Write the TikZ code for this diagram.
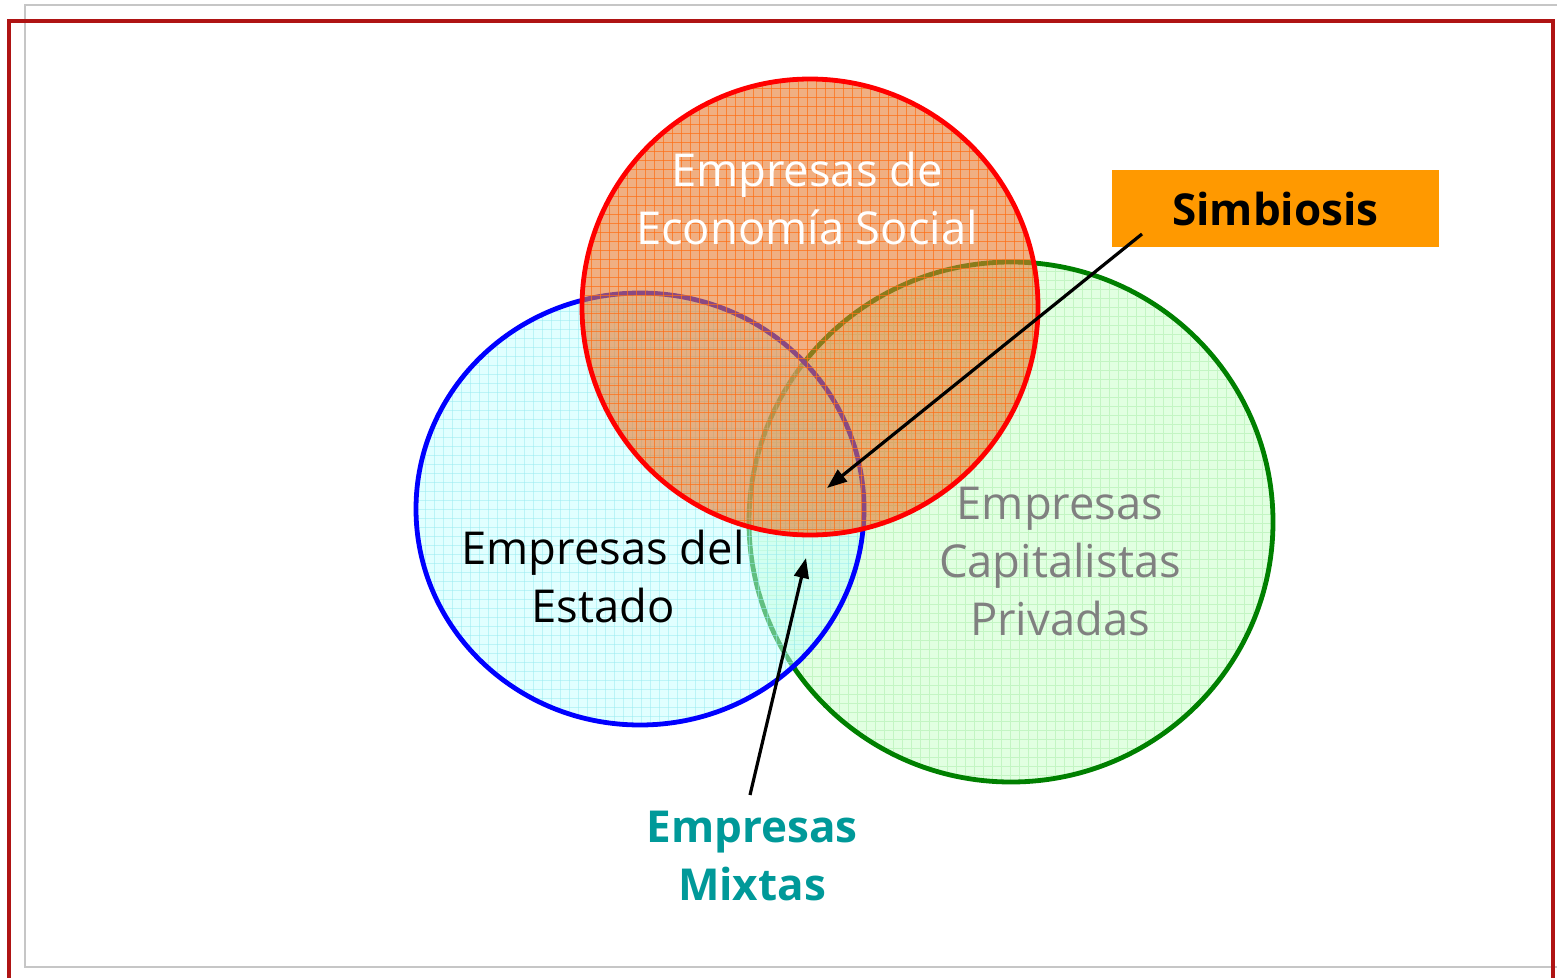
\documentclass[tikz,border=0pt]{standalone}
\usepackage{fontspec}
\setmainfont{Open Sans}
\usetikzlibrary{arrows.meta}
\definecolor{marco}{RGB}{175,20,20}
\definecolor{naranja}{RGB}{255,153,0}
\definecolor{rojofill}{RGB}{230,122,47}
\definecolor{rojogrid}{RGB}{255,110,20}
\definecolor{azulfill}{RGB}{195,255,255}
\definecolor{azulgrid}{RGB}{150,235,240}
\definecolor{verdefill}{RGB}{225,255,225}
\definecolor{verdegrid}{RGB}{195,245,195}
\definecolor{verde}{RGB}{0,128,0}
\definecolor{teal2}{RGB}{0,153,153}
\definecolor{gris}{RGB}{128,128,128}
\tikzstyle{lbl} = [align=center, inner sep=0pt, font={\fontsize{34}{43.5}\selectfont}]
\tikzstyle{negrita} = [font={\fontsize{33}{43.5}\selectfont\bfseries}]
\tikzstyle{borde} = [line width=3.6pt]
\tikzstyle{flecha} = [-{Triangle[length=15pt,width=11pt]}, line width=2.4pt]

\begin{document}
\begin{tikzpicture}[x=0.75pt,y=-0.75pt]
        \useasboundingbox (0,0) rectangle (1557,978);
        % marcos
        \draw[gray!45,line width=2pt](25,5) rectangle (1580,967);
        \draw[marco,line width=2.4pt](9,21) rectangle (1553,1000);
        % verde
        \begin{scope}
          \clip (1011,522) ellipse [x radius=262, y radius=260];
          \fill[verdefill] (749,262) rectangle (1273,782);
          \foreach \i in {0,9,...,530}{
            \draw[verdegrid,line width=0.6pt] (749+\i,262) -- (749+\i,782);
            \draw[verdegrid,line width=0.6pt] (749,262+\i) -- (1273,262+\i);
          }
        \end{scope}
        \draw[verde,borde] (1011,522) ellipse [x radius=262, y radius=260];
        % azul
        \begin{scope}
          \clip (640,509) ellipse [x radius=224, y radius=216];
          \fill[azulfill,opacity=0.5] (416,293) rectangle (864,725);
          \foreach \i in {0,9,...,450}{
            \draw[azulgrid,opacity=0.5,line width=0.6pt] (416+\i,293) -- (416+\i,725);
            \draw[azulgrid,opacity=0.5,line width=0.6pt] (416,293+\i) -- (864,293+\i);
          }
        \end{scope}
        \draw[blue,borde] (640,509) ellipse [x radius=224, y radius=216];
        % rojo
        \begin{scope}
          \clip (810,307) circle [radius=228];
          \fill[rojofill,opacity=0.6] (582,79) rectangle (1038,535);
          \foreach \i in {0,9,...,460}{
            \draw[rojogrid,opacity=0.7,line width=0.7pt] (582+\i,79) -- (582+\i,535);
            \draw[rojogrid,opacity=0.7,line width=0.7pt] (582,79+\i) -- (1038,79+\i);
          }
        \end{scope}
        \draw[red,borde] (810,307) circle [radius=228];
        % textos
        \node[lbl,white](social) at (807,198){Empresas de\\Economía Social};
        \node[lbl,black](estado) at (603,576){Empresas del\\Estado};
        \node[lbl,gris](privadas) at (1060,562){Empresas\\Capitalistas\\Privadas};
        \node[lbl,negrita,teal2](mixtas) at (752,856){Empresas\\Mixtas};
        \node[negrita,fill=naranja,minimum width=327*0.75pt,minimum height=77*0.75pt](simb) at (1275.5,208.5){Simbiosis};
        \coordinate (s0) at (1142,234);
        \coordinate (s1) at (827,488);
        \coordinate (m0) at (750,795);
        \coordinate (m1) at (806,558);
        \draw[flecha](s0)--(s1);
        \draw[flecha](m0)--(m1);
      \end{tikzpicture}
\end{document}
